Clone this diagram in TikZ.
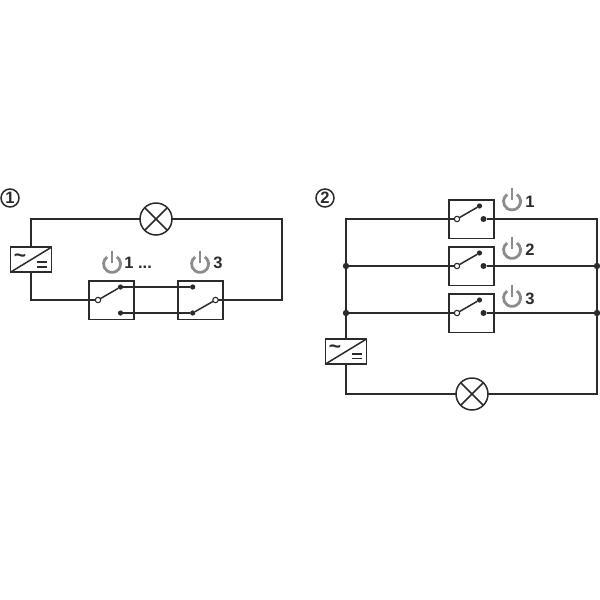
\documentclass[tikz,border=0pt]{standalone}
\usepackage{fontspec}
\setmainfont{Liberation Sans}
\definecolor{ink}{HTML}{2B2B2B}
\definecolor{icon}{HTML}{8C8C8C}
\tikzset{
  x=1pt,y=-1pt,
  wire/.style={draw=ink,line width=1.5pt,line join=miter},
  swbox/.style={draw=ink,fill=white,line width=1.5pt,minimum width=45pt,minimum height=38.5pt,inner sep=0pt,outer sep=0pt},
  cvbox/.style={draw=ink,fill=white,line width=1.5pt,minimum width=41pt,minimum height=25pt,inner sep=0pt,outer sep=0pt},
  lamp/.style={draw=ink,fill=white,line width=1.5pt,circle,minimum size=32pt,inner sep=0pt,outer sep=0pt},
  opencontact/.style={draw=ink,fill=white,line width=1.1pt,circle,minimum size=5.4pt,inner sep=0pt,outer sep=0pt},
  dot/.style={fill=ink,circle,minimum size=5.2pt,inner sep=0pt,outer sep=0pt},
  bigdot/.style={fill=ink,circle,minimum size=6pt,inner sep=0pt,outer sep=0pt},
  joint/.style={fill=ink,circle,minimum size=6.4pt,inner sep=0pt,outer sep=0pt},
  num/.style={font=\bfseries\fontsize{16.5}{16.5}\selectfont,text=ink,inner sep=0pt},
  badge/.style={draw=ink,line width=1.5pt,circle,minimum size=18pt,inner sep=0pt,font=\bfseries\fontsize{16.5}{16.5}\selectfont,text=ink},
  sign/.style={font=\bfseries\fontsize{21}{21}\selectfont,text=ink,inner sep=0pt},
  powericon/.pic={
    \draw[icon,line width=2.8pt] (4.9,-7) arc[start angle=55,end angle=-235,radius=8.5pt];
    \draw[icon,line width=2.8pt] (0,-13.5) -- (0,-1.5);
  }
}
\newcommand{\crossedlamp}[1]{%
  \draw[wire] (#1.45) -- (#1.225);
  \draw[wire] (#1.135) -- (#1.315);
}
\newcommand{\converter}[1]{%
  \draw[wire] (#1.south west) -- (#1.north east);
  \node[sign] at ([shift={(-11,-2)}]#1.center) {\char"007E};
  \draw[ink,line width=1.8pt] ([shift={(6,2.2)}]#1.center) -- ([shift={(15.5,2.2)}]#1.center);
  \draw[ink,line width=1.8pt] ([shift={(6,7)}]#1.center) -- ([shift={(15.5,7)}]#1.center);
}
\begin{document}
\begin{tikzpicture}
\useasboundingbox (0,0) rectangle (600,600);
% ---- diagram 1
\node[badge] (b1) at (10,198) {1};
\coordinate (a1) at (31,219);
\coordinate (a2) at (282,219);
\coordinate (a3) at (282,300);
\coordinate (a4) at (31,300);
\node[cvbox] (c1) at (31,259.7) {};
\converter{c1}
\node[lamp] (l1) at (156,219) {};
\crossedlamp{l1}
\node[swbox] (s1) at (111.5,300) {};
\node[swbox] (s2) at (200.5,300) {};
\node[opencontact] (s1o) at (98,300) {};
\node[dot] (s1a) at (120.5,287) {};
\node[dot] (s1b) at (120.5,313) {};
\node[opencontact] (s2o) at (215.5,300) {};
\node[dot] (s2a) at (192.7,287) {};
\node[dot] (s2b) at (192.7,313) {};
\draw[wire] (c1) -- (a1) -- (l1);
\draw[wire] (l1) -- (a2) -- (a3) -- (s2o);
\draw[wire] (c1) -- (a4) -- (s1o);
\draw[wire] (s1o) -- (s1a);
\draw[wire] (s2o) -- (s2b);
\draw[wire] (s1a) -- (s2a);
\draw[wire] (s1b) -- (s2b);
\pic at (112,264) {powericon};
\node[num] (n1) at (129,263) {1};
\node[num] (nd) at (145,267) {...};
\pic at (200,264) {powericon};
\node[num] (n3) at (218,263) {3};
% ---- diagram 2
\node[badge] (b2) at (325,198) {2};
\coordinate (r1) at (346,219);
\coordinate (r2) at (597,219);
\coordinate (r3) at (597,394);
\coordinate (r4) at (346,394);
\node[joint] (jl2) at (346,266) {};
\node[joint] (jl3) at (346,313) {};
\node[joint] (jr2) at (597,266) {};
\node[joint] (jr3) at (597,313) {};
\node[cvbox] (c2) at (346,351.5) {};
\converter{c2}
\node[lamp] (l2) at (472,394) {};
\crossedlamp{l2}
\foreach \k/\y in {1/219,2/266,3/313}{
  \node[swbox] (t\k) at (471.5,\y) {};
  \node[opencontact] (t\k o) at (457,\y) {};
  \node[dot] (t\k a) at (479.5,\y-13) {};
  \node[bigdot] (t\k b) at (483.5,\y) {};
  \draw[wire] (t\k o) -- (t\k a);
}
\draw[wire] (t1o) -- (r1) -- (jl2) -- (jl3) -- (c2);
\draw[wire] (c2) -- (r4) -- (l2);
\draw[wire] (l2) -- (r3) -- (jr3) -- (jr2) -- (r2) -- (t1b);
\draw[wire] (jl2) -- (t2o);
\draw[wire] (jl3) -- (t3o);
\draw[wire] (t2b) -- (jr2);
\draw[wire] (t3b) -- (jr3);
\pic at (512,201.5) {powericon};
\node[num] (m1) at (530,201.5) {1};
\pic at (512,250) {powericon};
\node[num] (m2) at (530,250) {2};
\pic at (512,298) {powericon};
\node[num] (m3) at (530,299) {3};
\end{tikzpicture}
\end{document}
